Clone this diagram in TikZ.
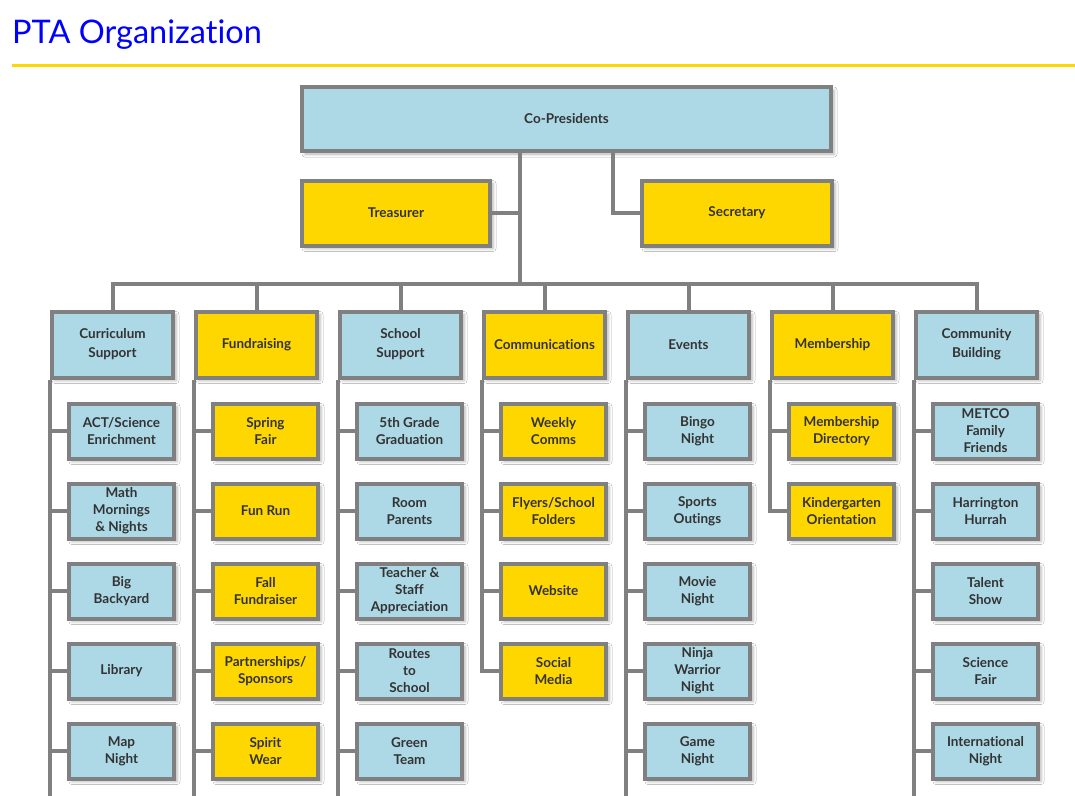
\documentclass[tikz,border=0pt]{standalone}
\usepackage{fontspec}
\setmainfont{Lato}[Ligatures=NoCommon]
\usetikzlibrary{shadows.blur}
\definecolor{boxblue}{HTML}{ADD8E6}
\definecolor{boxgold}{HTML}{FFD700}
\definecolor{linegray}{HTML}{808080}
\definecolor{txtgray}{HTML}{333333}
\definecolor{titleblue}{HTML}{0000FF}
\tikzset{
  box/.style={draw=linegray, line width=4pt, text=txtgray, align=center, inner sep=0pt,
    font=\bfseries\fontsize{13.5}{17}\selectfont,
    blur shadow={shadow xshift=3pt, shadow yshift=-3pt, shadow blur radius=3pt, shadow opacity=30}},
  bluebox/.style={box, fill=boxblue},
  goldbox/.style={box, fill=boxgold},
  head/.style={minimum width=121pt, minimum height=66pt, font=\bfseries\fontsize{13.5}{19}\selectfont},
  kid/.style={minimum width=105pt, minimum height=55pt},
  conn/.style={draw=linegray, line width=4pt, line join=miter},
}
\begin{document}
\begin{tikzpicture}[x=1pt,y=-1pt]
\useasboundingbox[fill=white] (0,0) rectangle (1075,795);

% title and rule
\node[anchor=base west, text=titleblue, inner sep=0pt, font=\fontsize{32.5}{38}\selectfont] (title) at (12,43) {PTA Organiza\kern0pt tion};
\draw[draw=boxgold, line width=3pt] (12,65.5) -- (1075,65.5);

% top level
\node[bluebox, minimum width=529pt, minimum height=64pt] (cp) at (566.5,119) {Co-Presidents};
\node[goldbox, minimum width=188pt, minimum height=65pt] (tr) at (396,213) {Treasurer};
\node[goldbox, minimum width=190pt, minimum height=65pt] (se) at (737,213) {Secretary};

% column headers
\node[bluebox, head] (h1) at (112.5,344.5) {Curriculum\\Support};
\node[goldbox, head] (h2) at (256.5,344.5) {Fundraising};
\node[bluebox, head] (h3) at (400.5,344.5) {School\\Support};
\node[goldbox, head] (h4) at (544.5,344.5) {Communications};
\node[bluebox, head] (h5) at (688.5,344.5) {Events};
\node[goldbox, head] (h6) at (832.5,344.5) {Membership};
\node[bluebox, head] (h7) at (976.5,344.5) {Community\\Building};

% column 1
\node[bluebox, kid] (k1a) at (121.5,431) {ACT/Science\\Enrichment};
\node[bluebox, kid] (k1b) at (121.5,511) {Math\\Mornings\\\& Nights};
\node[bluebox, kid] (k1c) at (121.5,591) {Big\\Backyard};
\node[bluebox, kid] (k1d) at (121.5,671) {Library};
\node[bluebox, kid] (k1e) at (121.5,751) {Map\\Night};
% column 2
\node[goldbox, kid] (k2a) at (265.5,431) {Spring\\Fair};
\node[goldbox, kid] (k2b) at (265.5,511) {Fun Run};
\node[goldbox, kid] (k2c) at (265.5,591) {Fall\\Fundraiser};
\node[goldbox, kid] (k2d) at (265.5,671) {Partnerships/\\Sponsors};
\node[goldbox, kid] (k2e) at (265.5,751) {Spirit\\Wear};
% column 3
\node[bluebox, kid] (k3a) at (409.5,431) {5th Grade\\Graduation};
\node[bluebox, kid] (k3b) at (409.5,511) {Room\\Parents};
\node[bluebox, kid] (k3c) at (409.5,591) {Teacher \&\\Staff\\Appreciation};
\node[bluebox, kid] (k3d) at (409.5,671) {Routes\\to\\School};
\node[bluebox, kid] (k3e) at (409.5,751) {Green\\Team};
% column 4
\node[goldbox, kid] (k4a) at (553.5,431) {Weekly\\Comms};
\node[goldbox, kid] (k4b) at (553.5,511) {Flyers/School\\Folders};
\node[goldbox, kid] (k4c) at (553.5,591) {Website};
\node[goldbox, kid] (k4d) at (553.5,671) {Social\\Media};
% column 5
\node[bluebox, kid] (k5a) at (697.5,431) {Bingo\\Night};
\node[bluebox, kid] (k5b) at (697.5,511) {Sports\\Outings};
\node[bluebox, kid] (k5c) at (697.5,591) {Movie\\Night};
\node[bluebox, kid] (k5d) at (697.5,671) {Ninja\\Warrior\\Night};
\node[bluebox, kid] (k5e) at (697.5,751) {Game\\Night};
% column 6
\node[goldbox, kid] (k6a) at (841.5,431) {Membership\\Directory};
\node[goldbox, kid] (k6b) at (841.5,511) {Kindergarten\\Orientation};
% column 7
\node[bluebox, kid] (k7a) at (985.5,431) {METCO\\Family\\Friends};
\node[bluebox, kid] (k7b) at (985.5,511) {Harrington\\Hurrah};
\node[bluebox, kid] (k7c) at (985.5,591) {Talent\\Show};
\node[bluebox, kid] (k7d) at (985.5,671) {Science\\Fair};
\node[bluebox, kid] (k7e) at (985.5,751) {International\\Night};

% junctions
\coordinate (trunk) at (520,284);
\coordinate (secdrop) at (613,152);
\coordinate (bottom) at (0,798);

% top connectors
\draw[conn] (cp.south -| trunk) -- (trunk);
\draw[conn] (tr.east) -- (tr.east -| trunk);
\draw[conn] (cp.south -| secdrop) |- (se.west);
\draw[conn] (h1.north) |- (trunk) -| (h7.north);
\draw[conn] (h2.north) -- (h2.north |- trunk);
\draw[conn] (h3.north) -- (h3.north |- trunk);
\draw[conn] (h4.north) -- (h4.north |- trunk);
\draw[conn] (h5.north) -- (h5.north |- trunk);
\draw[conn] (h6.north) -- (h6.north |- trunk);

% column spines
\draw[conn] (h1.south west) -- (h1.south west |- bottom);
\draw[conn] (h2.south west) -- (h2.south west |- bottom);
\draw[conn] (h3.south west) -- (h3.south west |- bottom);
\draw[conn] (h4.south west) |- (k4d.west);
\draw[conn] (h5.south west) -- (h5.south west |- bottom);
\draw[conn] (h6.south west) |- (k6b.west);
\draw[conn] (h7.south west) -- (h7.south west |- bottom);

% branches
\foreach \c/\k in {1/a,1/b,1/c,1/d,1/e,2/a,2/b,2/c,2/d,2/e,3/a,3/b,3/c,3/d,3/e,
                   4/a,4/b,4/c,5/a,5/b,5/c,5/d,5/e,6/a,7/a,7/b,7/c,7/d,7/e}
  \draw[conn] (h\c.south west |- k\c\k.west) -- (k\c\k.west);
\end{tikzpicture}
\end{document}
